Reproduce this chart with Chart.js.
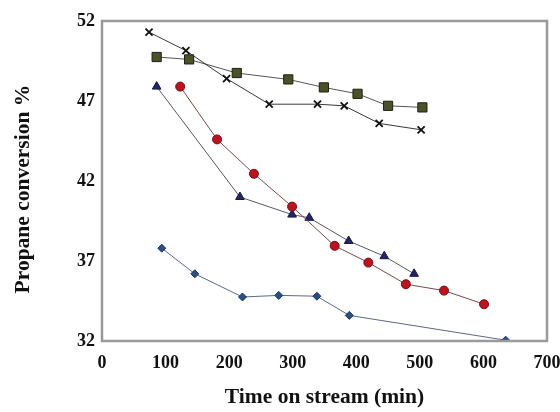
<!DOCTYPE html>
<html><head><meta charset="utf-8">
<script src="https://cdn.jsdelivr.net/npm/chart.js@4"></script>
<style>html,body{margin:0;padding:0;background:#fff}#wrap{width:560px;height:412px}</style>
</head><body><div id="wrap"><canvas id="c" width="560" height="412"></canvas></div>
<script>
const diamondX = [94, 146, 221, 278, 338, 389, 635];
const diamondY = [37.8, 36.2, 34.75, 34.85, 34.8, 33.6, 32.05];
const triangleX = [86, 217, 299, 326, 388, 444, 491];
const triangleY = [47.9, 41.0, 39.9, 39.7, 38.25, 37.3, 36.2];
const circleX = [123, 181, 239, 299, 366, 419, 478, 538, 601];
const circleY = [47.9, 44.6, 42.45, 40.4, 37.95, 36.9, 35.55, 35.15, 34.3];
const squareX = [86, 137, 212, 293, 349, 402, 450, 504];
const squareY = [49.75, 49.6, 48.75, 48.35, 47.85, 47.45, 46.7, 46.6];
const crossX = [74, 132, 196, 263, 339, 381, 436, 502];
const crossY = [51.3, 50.15, 48.4, 46.8, 46.8, 46.7, 45.6, 45.2];
const xTicks = [0, 100, 200, 300, 400, 500, 600, 700];
const yTicks = [32, 37, 42, 47, 52];

const pts = (xs, ys) => xs.map((x, i) => ({x: x, y: ys[i]}));
const F = '"Liberation Serif", "Times New Roman", serif';

const frame = {
  id: 'frame',
  afterDatasetsDraw(chart) {
    const a = chart.chartArea, ctx = chart.ctx;
    ctx.save();
    ctx.strokeStyle = '#9a9a9a';
    ctx.lineWidth = 2.5;
    ctx.strokeRect(a.left, a.top, a.right - a.left, a.bottom - a.top);
    ctx.restore();
  }
};

new Chart(document.getElementById('c'), {
  type: 'scatter',
  data: {
    datasets: [
      {data: pts(crossX, crossY), showLine: true, borderColor: '#3a3a3a', borderWidth: 1,
       pointStyle: 'crossRot', pointRadius: 5, pointBorderColor: '#111', pointBorderWidth: 1.8, pointBackgroundColor: '#111'},
      {data: pts(squareX, squareY), showLine: true, borderColor: '#555', borderWidth: 1,
       pointStyle: 'rect', pointRadius: 6.5, pointBackgroundColor: '#4a5228', pointBorderColor: '#1e2010', pointBorderWidth: 1},
      {data: pts(circleX, circleY), showLine: true, borderColor: '#7a4a4a', borderWidth: 1,
       pointStyle: 'circle', pointRadius: 4.5, pointBackgroundColor: '#c0121e', pointBorderColor: '#7a0a10', pointBorderWidth: 1},
      {data: pts(triangleX, triangleY), showLine: true, borderColor: '#555a66', borderWidth: 1,
       pointStyle: 'triangle', pointRadius: 5, pointBackgroundColor: '#24246a', pointBorderColor: '#161640', pointBorderWidth: 1},
      {data: pts(diamondX, diamondY), showLine: true, borderColor: '#5a6a80', borderWidth: 1,
       pointStyle: 'rectRot', pointRadius: 4, pointBackgroundColor: '#2a4f86', pointBorderColor: '#1a3560', pointBorderWidth: 1}
    ]
  },
  options: {
    responsive: false,
    animation: false,
    layout: {padding: {left: 0, right: 13, top: 21, bottom: 0}},
    plugins: {legend: {display: false}, tooltip: {enabled: false}},
    scales: {
      x: {
        type: 'linear', min: 0, max: 700,
        afterBuildTicks: s => { s.ticks = xTicks.map(v => ({value: v})); },
        afterFit: s => { s.height = 71; s.paddingLeft = 0; s.paddingRight = 0; },
        grid: {display: false, drawTicks: false},
        border: {display: false},
        ticks: {color: '#111', font: {family: F, size: 18, weight: 'bold'}, padding: 12, maxRotation: 0},
        title: {display: true, text: 'Time on stream (min)', color: '#111',
                font: {family: F, size: 21.5, weight: 'bold'}, padding: {top: 0, bottom: 2}}
      },
      y: {
        type: 'linear', min: 32, max: 52,
        afterBuildTicks: s => { s.ticks = yTicks.map(v => ({value: v})); },
        afterFit: s => { s.width = 102; s.paddingTop = 0; s.paddingBottom = 0; },
        grid: {display: false, drawTicks: false},
        border: {display: false},
        ticks: {color: '#111', font: {family: F, size: 18, weight: 'bold'}, padding: 7},
        title: {display: true, text: 'Propane conversion %   ', color: '#111',
                font: {family: F, size: 21.5, weight: 'bold'}, padding: {top: 11, bottom: 0}}
      }
    }
  },
  plugins: [frame]
});
</script>
</body></html>
